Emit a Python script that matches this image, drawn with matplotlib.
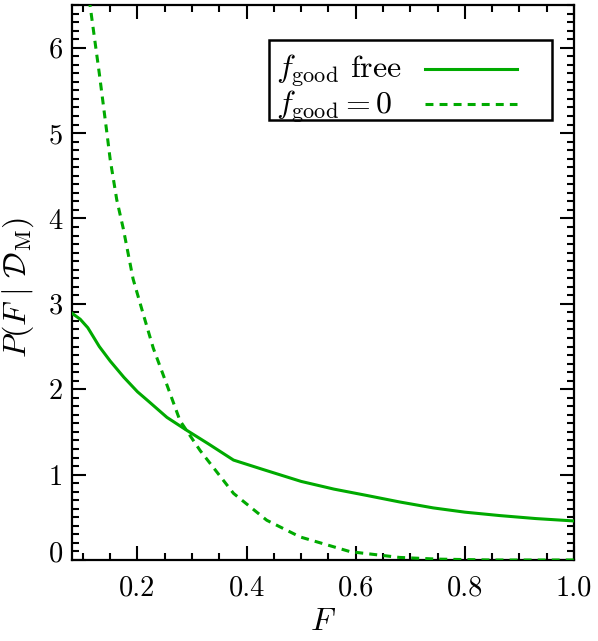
import matplotlib
matplotlib.use("Agg")
import matplotlib.pyplot as plt
import matplotlib.transforms as mtransforms
from matplotlib.patches import Rectangle
from matplotlib.lines import Line2D
from matplotlib.ticker import MultipleLocator, FixedLocator

plt.rcParams['font.family'] = 'serif'
plt.rcParams['font.serif'] = ['cmr10']
plt.rcParams['mathtext.fontset'] = 'cm'
plt.rcParams['axes.formatter.use_mathtext'] = True

# f_good free
F_free = [0.08, 0.095, 0.109, 0.13, 0.15, 0.175, 0.20, 0.22, 0.254, 0.29, 0.33,
          0.376, 0.43, 0.50, 0.56, 0.62, 0.68, 0.742, 0.80, 0.864, 0.93, 1.0]
P_free = [2.89, 2.82, 2.72, 2.50, 2.33, 2.14, 1.97, 1.86, 1.67, 1.52, 1.36,
          1.17, 1.06, 0.92, 0.83, 0.756, 0.68, 0.61, 0.56, 0.52, 0.485, 0.457]

# f_good = 0
F_zero = [0.10, 0.113, 0.13, 0.144, 0.150, 0.162, 0.174, 0.192, 0.211, 0.229,
          0.254, 0.278, 0.315, 0.376, 0.437, 0.498, 0.59, 0.68, 0.75, 0.85, 1.0]
P_zero = [7.3, 6.5, 5.7, 5.0, 4.69, 4.22, 3.88, 3.29, 2.87, 2.48,
          2.05, 1.63, 1.28, 0.78, 0.465, 0.27, 0.097, 0.03, 0.01, 0.0, 0.0]

labels = [r'$f_{\rm good}$ free', r'$f_{\rm good} = 0$']
xticks = [0.2, 0.4, 0.6, 0.8, 1.0]
yticks = [0, 1, 2, 3, 4, 5, 6]

green = '#00aa00'
dash = (0, (2.6, 2.0))

fig = plt.figure(figsize=(5.98, 6.41), dpi=100)
ax = fig.add_axes([0.1204, 0.1264, 0.9599 - 0.1204, 0.9922 - 0.1264])

ax.plot(F_free, P_free, color=green, lw=2.2, zorder=3)
ax.plot(F_zero, P_zero, color=green, lw=2.2, ls=dash, zorder=3)

ax.set_xlim(0.08, 1.0)
ax.set_ylim(0, 6.5)

ax.xaxis.set_major_locator(FixedLocator(xticks))
ax.xaxis.set_minor_locator(MultipleLocator(0.05))
ax.yaxis.set_major_locator(FixedLocator(yticks))
ax.yaxis.set_minor_locator(MultipleLocator(0.1))
ax.set_xticklabels([f'{v:.1f}' for v in xticks])
ax.set_yticklabels([str(v) for v in yticks])

ax.tick_params(which='both', direction='in', top=True, right=True, width=1.5,
               labelsize=20.5)
ax.tick_params(which='major', length=10)
ax.tick_params(which='minor', length=5)
ax.tick_params(axis='x', pad=11)
ax.tick_params(axis='y', pad=6.5)
for sp in ax.spines.values():
    sp.set_linewidth(1.6)

# the 0 label sits a little higher in the original
lab0 = ax.get_yticklabels()[0]
lab0.set_transform(lab0.get_transform() + mtransforms.ScaledTranslation(0, 6 / 72, fig.dpi_scale_trans))

fig.text(323 / 598, 1 - 622 / 641, r'$F$', fontsize=23, ha='center', va='center')
fig.text(18 / 598, 1 - 288 / 641, r'$P(F\ |\ \mathcal{D}_{\rm M})$', fontsize=23,
         rotation=90, ha='center', va='center')

# legend box (text first, then line sample)
ax.add_patch(Rectangle((0.392, 0.793), 0.956 - 0.392, 0.937 - 0.793, transform=ax.transAxes,
                       facecolor='white', edgecolor='black', lw=1.8, zorder=5))
styles = ['-', dash]
text_y = [0.870, 0.805]
line_y = [0.884, 0.822]
for lab, st, ty, ly in zip(labels, styles, text_y, line_y):
    ax.text(0.406, ty, lab, transform=ax.transAxes, fontsize=23, va='baseline',
            ha='left', zorder=6)
    ax.add_line(Line2D([0.703, 0.886], [ly, ly], transform=ax.transAxes, color=green,
                       lw=2.2, ls=st, zorder=6))

fig.savefig('out.png', dpi=100)
